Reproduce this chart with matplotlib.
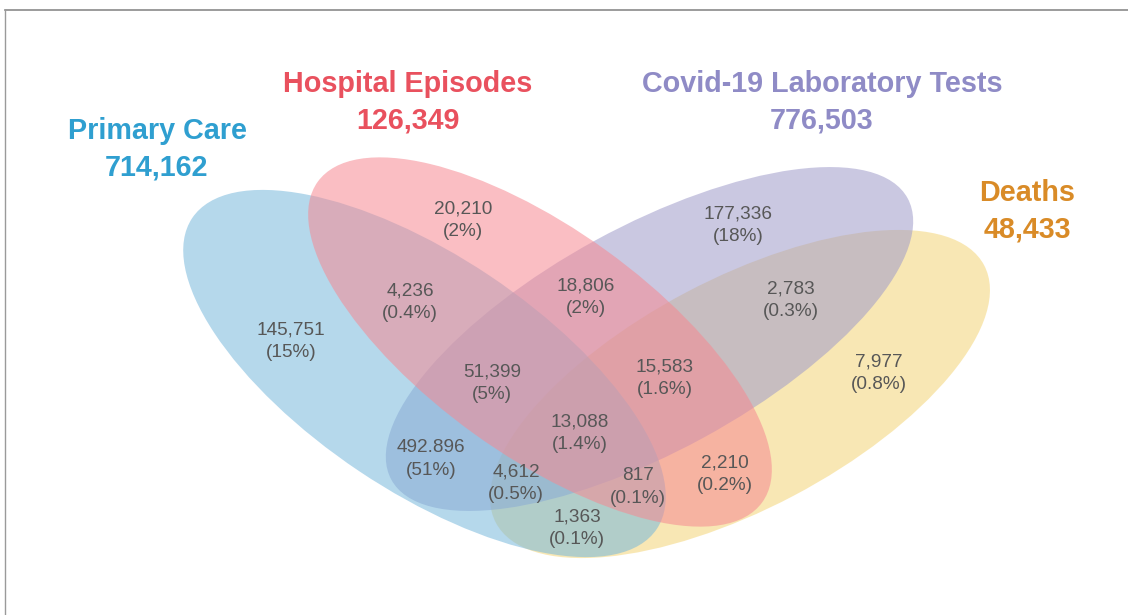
import matplotlib
matplotlib.use("Agg")
import matplotlib.pyplot as plt
from matplotlib.patches import Ellipse
from matplotlib.lines import Line2D

# ---- data ----
set_names = ["Primary Care", "Hospital Episodes", "Covid-19 Laboratory Tests", "Deaths"]
set_totals = ["714,162", "126,349", "776,503", "48,433"]

region_counts = ["145,751", "20,210", "4,236", "51,399", "18,806", "177,336",
                 "2,783", "15,583", "7,977", "13,088", "492.896", "4,612",
                 "817", "2,210", "1,363"]
region_pcts = ["(15%)", "(2%)", "(0.4%)", "(5%)", "(2%)", "(18%)",
               "(0.3%)", "(1.6%)", "(0.8%)", "(1.4%)", "(51%)", "(0.5%)",
               "(0.1%)", "(0.2%)", "(0.1%)"]

# ---- layout / style (pixel coordinates) ----
W, H = 1128, 615
fig = plt.figure(figsize=(W / 100, H / 100), dpi=100)
ax = fig.add_axes([0, 0, 1, 1])
ax.set_xlim(0, W)
ax.set_ylim(H, 0)
ax.axis("off")

fill_colors = ["#78b8dc", "#f68992", "#9f9bca", "#f4d577"]
title_colors = ["#2f9fd0", "#e9515e", "#8f8bc6", "#d98b27"]
# (cx, cy, width, height, angle) ; drawing order: Deaths, Covid, Primary, Hospital
ell_geom = {
    0: (424.5, 373.5, 559, 235, 33.8),
    1: (540, 342, 548, 226, 35.8),
    2: (649.5, 339, 588, 225, -28.6),
    3: (740, 394, 552, 230, -27.8),
}
draw_order = [3, 2, 0, 1]
for i in draw_order:
    cx, cy, w, h, a = ell_geom[i]
    ax.add_patch(Ellipse((cx, cy), w, h, angle=a, facecolor=fill_colors[i],
                         edgecolor="none", alpha=0.55))

font = ["Liberation Sans", "DejaVu Sans"]
title_pos = [(157, 149), (408, 102), (822, 102), (1027, 211)]
for name, tot, col, (x, y) in zip(set_names, set_totals, title_colors, title_pos):
    ax.text(x, y, name + "\n" + tot, ha="center", va="center", color=col,
            fontsize=20.7, fontweight="bold", family=font, linespacing=1.38)

label_pos = [(291, 341), (463, 220), (410, 302), (492, 383), (586, 297),
             (738, 225), (791, 300), (665, 378), (879, 373), (580, 433),
             (431, 459), (516, 483), (638, 487), (725, 474), (577, 528)]
for c, p, (x, y) in zip(region_counts, region_pcts, label_pos):
    ax.text(x, y, c + "\n" + p, ha="center", va="center", color="#575757",
            fontsize=13.7, family=font, linespacing=1.4)

# screenshot-like frame
fig.add_artist(Line2D([4.5 / W, 1], [1 - 9.5 / H, 1 - 9.5 / H],
                      transform=fig.transFigure, color="#8a8a8a", lw=1.2))
fig.add_artist(Line2D([4.5 / W, 4.5 / W], [0, 1 - 9.5 / H],
                      transform=fig.transFigure, color="#9a9a9a", lw=1.0))

fig.savefig("out.png", dpi=100, facecolor="white")
